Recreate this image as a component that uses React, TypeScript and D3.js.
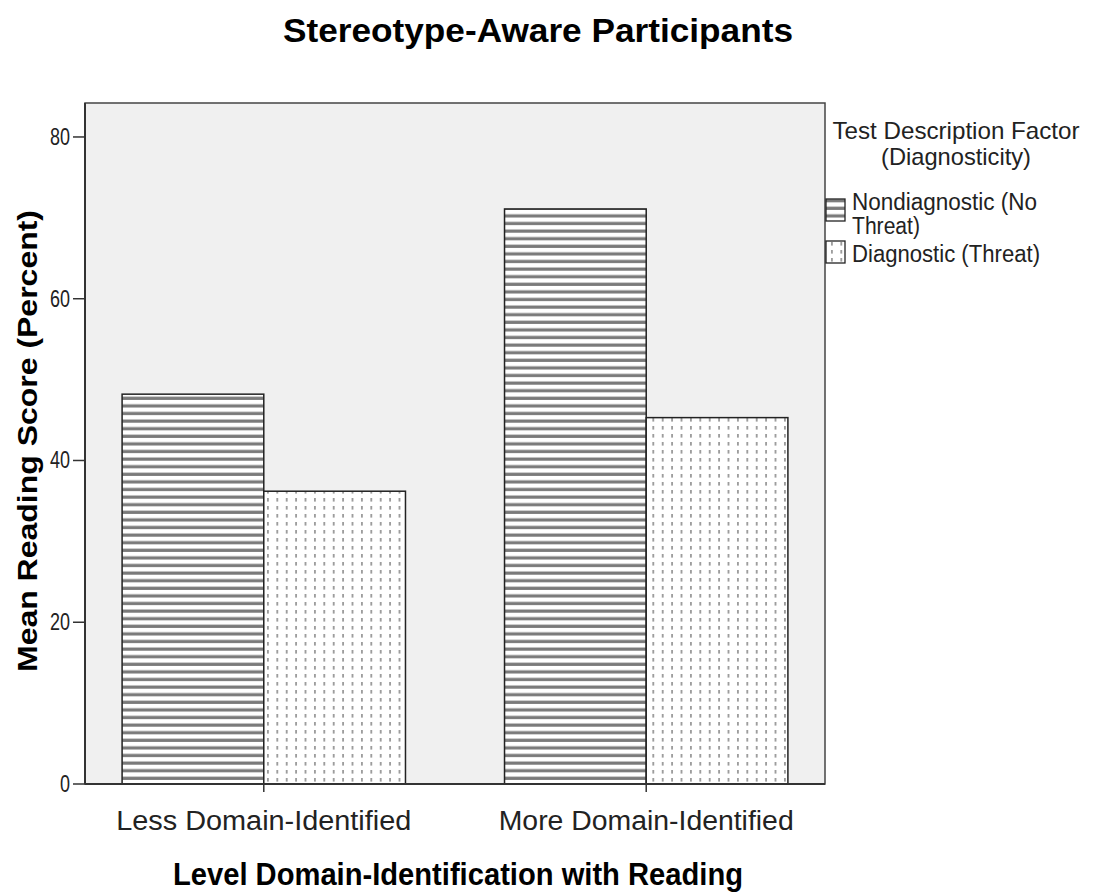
import React from "react";
import * as d3 from "d3";

const categories = ["Less Domain-Identified", "More Domain-Identified"];
const seriesNames = ["Nondiagnostic (No Threat)", "Diagnostic (Threat)"];
const nondiagnostic = [48.2, 71.1];
const diagnostic = [36.2, 45.3];
const yTicks = [0, 20, 40, 60, 80];

const W = 1098, H = 894;
const M = { left: 85, top: 103, right: 825, bottom: 784 };
const FONT = "'Liberation Sans', Arial, sans-serif";

export default function App() {
  const x = d3.scaleBand<string>().domain(categories).range([M.left, M.right]).paddingInner(0.259).paddingOuter(0.097);
  const xs = d3.scaleBand<string>().domain(seriesNames).range([0, x.bandwidth()]).padding(0);
  const y = d3.scaleLinear().domain([0, 84.2]).range([M.bottom, M.top]);
  const values = [nondiagnostic, diagnostic];
  const fills = ["url(#hstripe)", "url(#dots)"];

  return (
    <svg width={W} height={H} style={{ position: "absolute", left: 0, top: 0, background: "#fff" }} fontFamily={FONT}>
      <defs>
        <pattern id="hstripe" patternUnits="userSpaceOnUse" width={8} height={7.6}>
          <rect width={8} height={7.6} fill="#fff" />
          <rect y={1.5} width={8} height={3.2} fill="#7a7a7a" />
        </pattern>
        <pattern id="dots" patternUnits="userSpaceOnUse" width={9.4} height={8}>
          <rect width={9.4} height={8} fill="#fff" />
          <rect x={4} y={2} width={1.4} height={3.6} fill="#7c7c7c" />
        </pattern>
      </defs>
      <text x={538} y={42} textAnchor="middle" fontWeight="bold" fontSize={34} textLength={510} lengthAdjust="spacingAndGlyphs">Stereotype-Aware Participants</text>
      <rect x={M.left} y={M.top} width={M.right - M.left} height={M.bottom - M.top} fill="#f0f0f0" stroke="#444" strokeWidth={1.5} />
      {categories.map((c, i) =>
        seriesNames.map((s, j) => {
          const bx = (x(c) as number) + (xs(s) as number);
          const by = y(values[j][i]);
          return <rect key={c + s} x={bx} y={by} width={xs.bandwidth()} height={M.bottom - by} fill={fills[j]} stroke="#222" strokeWidth={1.5} />;
        })
      )}
      <line x1={M.left} x2={M.left} y1={M.top} y2={M.bottom} stroke="#333" strokeWidth={2} />
      <line x1={M.left} x2={M.right} y1={M.bottom} y2={M.bottom} stroke="#333" strokeWidth={2} />
      {yTicks.map((t) => (
        <g key={t}>
          <line x1={73} x2={M.left} y1={y(t)} y2={y(t)} stroke="#333" strokeWidth={1.5} />
          <text x={70} y={y(t) + 8} textAnchor="end" fontSize={23} fill="#222" textLength={t === 0 ? 10 : 20} lengthAdjust="spacingAndGlyphs">{t}</text>
        </g>
      ))}
      {categories.map((c) => {
        const cx = (x(c) as number) + x.bandwidth() / 2;
        return (
          <g key={c}>
            <line x1={cx} x2={cx} y1={M.bottom} y2={M.bottom + 8} stroke="#333" strokeWidth={1.5} />
            <text x={cx} y={830} textAnchor="middle" fontSize={27} fill="#222" textLength={295} lengthAdjust="spacingAndGlyphs">{c}</text>
          </g>
        );
      })}
      <text x={458} y={885} textAnchor="middle" fontWeight="bold" fontSize={31} textLength={570} lengthAdjust="spacingAndGlyphs">Level Domain-Identification with Reading</text>
      <text transform="translate(37,441) rotate(-90)" textAnchor="middle" fontWeight="bold" fontSize={28} textLength={462} lengthAdjust="spacingAndGlyphs">Mean Reading Score (Percent)</text>
      <text x={956} y={139} textAnchor="middle" fontSize={24} fill="#222" textLength={247} lengthAdjust="spacingAndGlyphs">Test Description Factor</text>
      <text x={956} y={165} textAnchor="middle" fontSize={24} fill="#222" textLength={150} lengthAdjust="spacingAndGlyphs">(Diagnosticity)</text>
      <rect x={826} y={199} width={19} height={22} fill="url(#hstripe)" stroke="#222" strokeWidth={1.3} />
      <text x={852} y={210} fontSize={23} fill="#222" textLength={185} lengthAdjust="spacingAndGlyphs">Nondiagnostic (No</text>
      <text x={852} y={234} fontSize={23} fill="#222" textLength={68} lengthAdjust="spacingAndGlyphs">Threat)</text>
      <rect x={826} y={241} width={19} height={22} fill="url(#dots)" stroke="#222" strokeWidth={1.3} />
      <text x={852} y={262} fontSize={23} fill="#222" textLength={188} lengthAdjust="spacingAndGlyphs">Diagnostic (Threat)</text>
    </svg>
  );
}
